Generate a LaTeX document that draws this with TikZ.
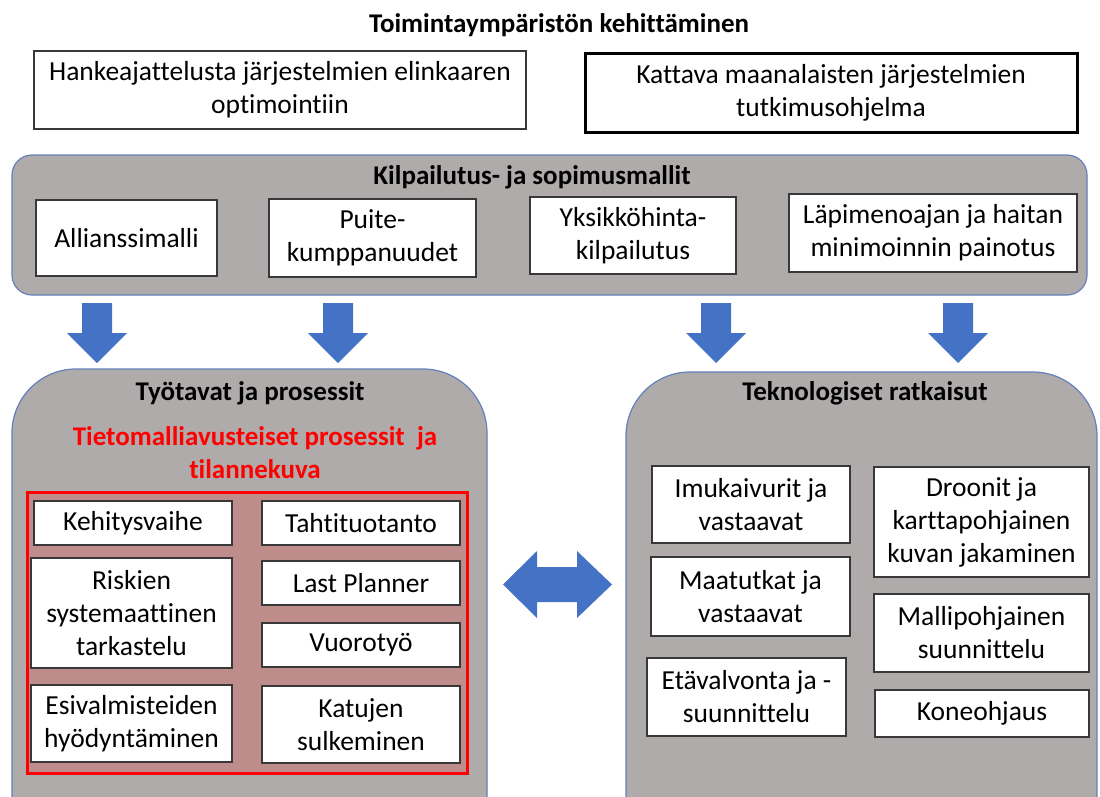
\documentclass[tikz,border=0pt]{standalone}
\usepackage{fontspec}
\setmainfont{Carlito}[Ligatures=NoCommon]
\begin{document}
\begin{tikzpicture}[x=1pt,y=-1pt,
  every node/.style={inner sep=0pt, outer sep=0pt},
  txt/.style={font=\fontsize{27.5}{33}\selectfont, align=center},
  head/.style={font=\fontsize{27}{33}\selectfont\bfseries, align=center},
  wbox/.style={txt, draw=black!78, line width=2.4pt, fill=white},
  panel/.style={draw=panelline, line width=1.2pt, fill=panelgrey},
  arrowfill/.style={fill=arrowblue},
  downblock/.pic={\fill[arrowfill] (-15,0) -- (15,0) -- (15,30) -- (30,30) -- (0,60) -- (-30,30) -- (-15,30) -- cycle;}
]
\definecolor{panelgrey}{RGB}{175,171,171}
\definecolor{panelline}{RGB}{100,128,186}
\definecolor{arrowblue}{RGB}{68,114,196}
\definecolor{rosefill}{RGB}{190,140,138}
\definecolor{redtext}{RGB}{255,0,0}

\useasboundingbox (0,0) rectangle (1100,796);
\clip (0,0) rectangle (1100,796);

% heading and the two top boxes
\node[head] (toptitle) at (559,25) {Toimintaympäristön kehittäminen};
\node[wbox, line width=2pt, minimum width=492, minimum height=78] (hanke) at (280,90)
  {Hankeajattelusta järjestelmien elinkaaren\\optimointiin};
\node[wbox, draw=black, line width=3pt, minimum width=492, minimum height=79] (kattava) at (831,92.5)
  {Kattava maanalaisten järjestelmien\\tutkimusohjelma};

% procurement band
\draw[panel, rounded corners=20] (12,155) rectangle (1087,295);
\node[head] (kilpa) at (532,177) {Kilpailutus- ja sopimusmallit};
\node[wbox, minimum width=181, minimum height=76] (allianssi) at (126.5,238) {Allianssimalli};
\node[wbox, minimum width=207, minimum height=78] (puite) at (372.5,238) {Puite-\\kumppanuudet};
\node[wbox, minimum width=206, minimum height=77] (yksikko) at (633,235.5) {Yksikköhinta-\\kilpailutus};
\node[wbox, minimum width=288, minimum height=78] (lapimeno) at (933,233) {Läpimenoajan ja haitan\\minimoinnin painotus};

% block arrows down to the two panels
\pic at (97,303) {downblock};
\pic at (338,303) {downblock};
\pic at (716,303) {downblock};
\pic at (958,303) {downblock};

% left panel: working methods
\draw[panel, rounded corners=64] (12,369) rectangle (487,860);
\node[head] (tyotavat) at (250,393) {Työtavat ja prosessit};
\node[head, text=redtext] (tieto) at (255,453) {Tietomalliavusteiset prosessit~ ja\\tilannekuva};
\draw[draw=redtext, line width=3pt, fill=rosefill] (27,492) rectangle (467,773);
\node[wbox, minimum width=198, minimum height=44] (kehitys) at (133,523) {Kehitysvaihe};
\node[wbox, minimum width=201, minimum height=110] (riskien) at (131.5,613) {Riskien\\systemaattinen\\tarkastelu};
\node[wbox, minimum width=201, minimum height=77] (esival) at (131.5,723.5) {Esivalmisteiden\\hyödyntäminen};
\node[wbox, minimum width=198, minimum height=44] (tahti) at (361,523) {Tahtituotanto};
\node[wbox, minimum width=198, minimum height=44] (last) at (361,583) {Last Planner};
\node[wbox, minimum width=198, minimum height=44] (vuoro) at (361,645) {Vuorotyö};
\node[wbox, minimum width=198, minimum height=77] (katujen) at (361,724.5) {Katujen\\sulkeminen};

% right panel: technology
\draw[panel, rounded corners=64] (626,372) rectangle (1097,860);
\node[head] (tekno) at (865,393) {Teknologiset ratkaisut};
\node[wbox, minimum width=198, minimum height=77] (imu) at (751,504.5) {Imukaivurit ja\\vastaavat};
\node[wbox, minimum width=199, minimum height=79] (maatutka) at (750.5,596.5) {Maatutkat ja\\vastaavat};
\node[wbox, minimum width=199, minimum height=78] (etaval) at (746.5,697) {Etävalvonta ja -\\suunnittelu};
\node[wbox, minimum width=215, minimum height=110] (droonit) at (981.5,522) {Droonit ja\\karttapohjainen\\kuvan jakaminen};
\node[wbox, minimum width=215, minimum height=78] (malli) at (981.5,633) {Mallipohjainen\\suunnittelu};
\node[wbox, minimum width=214, minimum height=47] (kone) at (982,713.5) {Koneohjaus};

% two-way block arrow between the panels
\fill[arrowfill] (503,584.5) -- (537,551) -- (537,567) -- (577,567) -- (577,551) -- (612,584.5)
  -- (577,618) -- (577,602) -- (537,602) -- (537,618) -- cycle;
\end{tikzpicture}
\end{document}
